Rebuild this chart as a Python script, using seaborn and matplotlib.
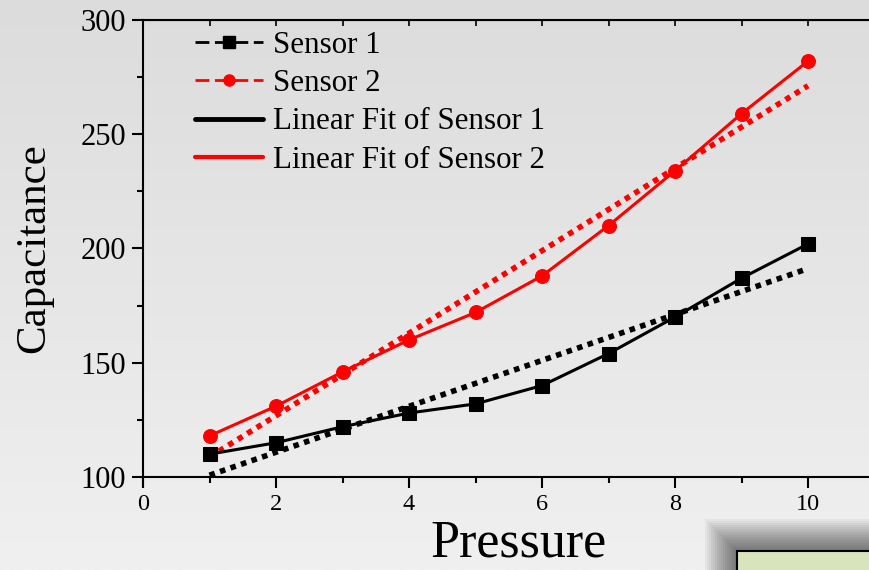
import numpy as np
import pandas as pd
import matplotlib
matplotlib.use("Agg")
import matplotlib.pyplot as plt
from matplotlib.lines import Line2D
from matplotlib.patches import Rectangle
from matplotlib.ticker import MultipleLocator
import seaborn as sns

# ── DATA ─────────────────────────────────────────────────────────
pressure = [1, 2, 3, 4, 5, 6, 7, 8, 9, 10]
sensor_1 = [110, 115, 122, 128, 132, 140, 154, 170, 187, 202]
sensor_2 = [118, 131, 146, 160, 172, 188, 210, 234, 259, 282]
series_names = ["Sensor 1", "Sensor 2"]
series_colors = ["black", "red"]
series_markers = ["s", "o"]

df = pd.DataFrame({"Pressure": pressure, "Sensor 1": sensor_1, "Sensor 2": sensor_2})

# ── STYLE ────────────────────────────────────────────────────────
sns.set_style("ticks")
plt.rcParams["font.family"] = ["Liberation Serif", "DejaVu Serif"]
for key in ["text.color", "axes.labelcolor", "xtick.color", "ytick.color",
            "axes.edgecolor"]:
    plt.rcParams[key] = "black"

fig = plt.figure(figsize=(8.69, 5.70), dpi=100)

# gradient background
bg = fig.add_axes([0, 0, 1, 1], zorder=-10)
grad = np.linspace(0, 1, 256).reshape(-1, 1)
bg.imshow(grad, aspect="auto", cmap=matplotlib.colors.LinearSegmentedColormap.from_list(
    "bg", ["#dcdcdc", "#f0f0f0"]), extent=[0, 1, 1, 0])
bg.set_axis_off()

# shadowed note box in bottom right corner
for i in range(16):
    off = 32 - i * 2
    fig.patches.append(Rectangle(((737 - off) / 869, 0), 1, (570 - 551 + off) / 570,
                                 transform=fig.transFigure, facecolor="black",
                                 alpha=0.04, edgecolor="none", zorder=-5))
fig.patches.append(Rectangle((737 / 869, -0.05), 0.3, (570 - 551) / 570 + 0.05,
                             transform=fig.transFigure, facecolor="#d8e4bc",
                             edgecolor="black", linewidth=1.5, zorder=-4))

ax = fig.add_axes([143 / 869, 93 / 570, 731.5 / 869, 457 / 570])
ax.patch.set_alpha(0)

# ── DATA SERIES AND LINEAR FITS ──────────────────────────────────
for name, color, marker in zip(series_names, series_colors, series_markers):
    sns.lineplot(data=df, x="Pressure", y=name, color=color, marker=marker,
                 markersize=10, markeredgecolor=color, linewidth=2.2, ax=ax,
                 zorder=3)
    slope, intercept = np.polyfit(df["Pressure"], df[name], 1)
    fit = pd.DataFrame({"Pressure": df["Pressure"],
                        "fit": slope * df["Pressure"] + intercept})
    sns.lineplot(data=fit, x="Pressure", y="fit", color=color, linewidth=4,
                 linestyle=(0, (1, 1)), ax=ax, zorder=2)

# ── AXES ─────────────────────────────────────────────────────────
ax.set_xlim(0, 11)
ax.set_ylim(100, 300)
ax.xaxis.set_major_locator(MultipleLocator(2))
ax.xaxis.set_minor_locator(MultipleLocator(1))
ax.yaxis.set_major_locator(MultipleLocator(50))
ax.yaxis.set_minor_locator(MultipleLocator(25))
ax.tick_params(which="major", direction="out", length=8, width=1.5,
               labelsize=22, pad=4)
ax.tick_params(which="minor", direction="out", length=4, width=1.5)
ax.tick_params(axis="x", labelsize=17.5)
for side in ["left", "bottom", "top"]:
    ax.spines[side].set_linewidth(1.5)
ax.spines["right"].set_visible(False)
ax.spines["left"].set_bounds(96, 300)

top = ax.secondary_xaxis("top")
top.xaxis.set_major_locator(MultipleLocator(1))
top.tick_params(direction="in", length=4, width=1.2, labeltop=False)

ax.set_xlabel("Pressure", fontsize=37.5)
ax.xaxis.set_label_coords(0.513, -0.092, transform=ax.transAxes)
ax.xaxis.label.set_va("top")
ax.set_ylabel("Capacitance", fontsize=31, labelpad=20)

handles = [
    Line2D([], [], color="black", linestyle=(0, (5, 2)), linewidth=2,
           marker="s", markersize=8),
    Line2D([], [], color="red", linestyle=(0, (5, 2)), linewidth=2,
           marker="o", markersize=8),
    Line2D([], [], color="black", linewidth=3.5),
    Line2D([], [], color="red", linewidth=3),
]
labels = ["Sensor 1", "Sensor 2", "Linear Fit of Sensor 1", "Linear Fit of Sensor 2"]
ax.legend(handles, labels, loc="upper left", bbox_to_anchor=(0.045, 1.017),
          frameon=False, fontsize=22.3, handlelength=2.2, handletextpad=0.35,
          labelspacing=0.3, borderaxespad=0.2)

fig.savefig("out.png", dpi=100)
